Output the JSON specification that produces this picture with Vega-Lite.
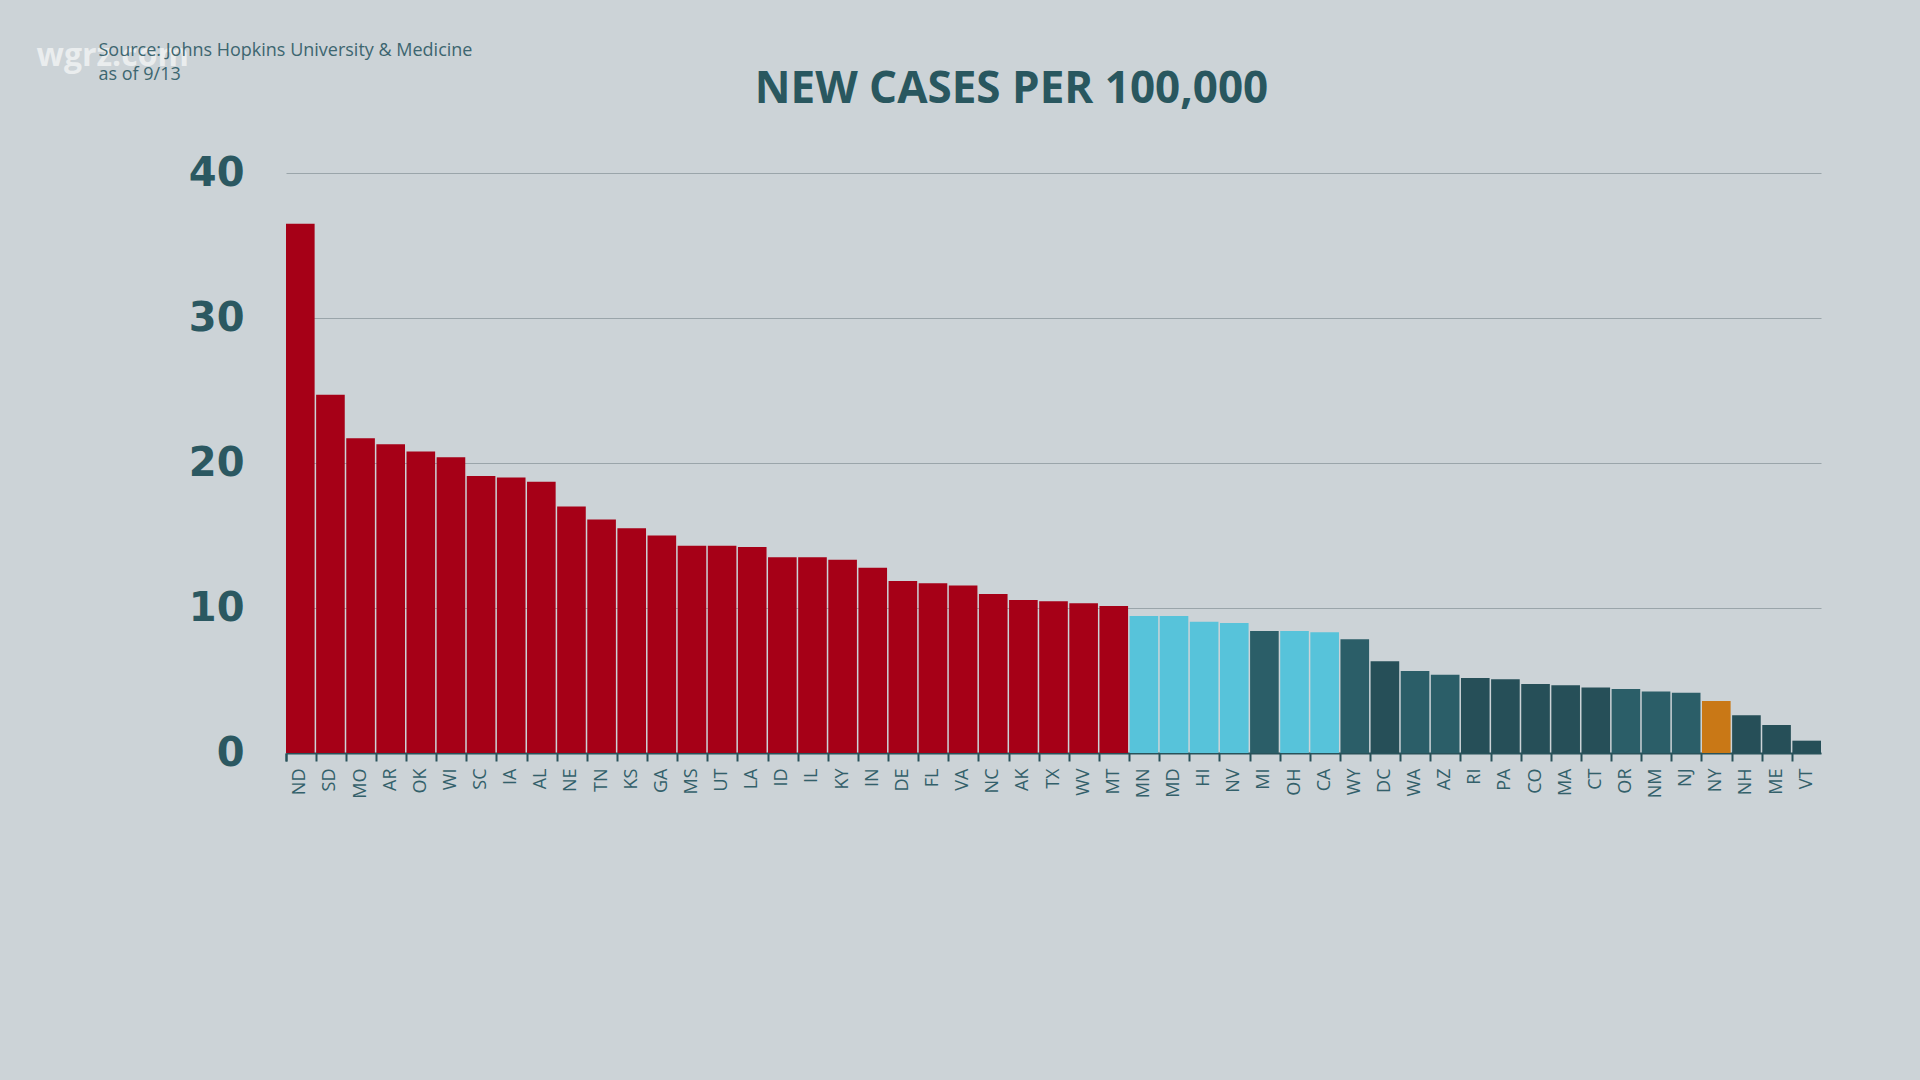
{
  "$schema": "https://vega.github.io/schema/vega-lite/v6.json",
  "autosize": {"type": "none"},
  "width": 1535,
  "height": 580,
  "padding": {"left": 286, "top": 173, "right": 99, "bottom": 327},
  "background": "#ccd3d7",
  "title": {
    "text": "NEW CASES PER 100,000",
    "font": "Open Sans",
    "fontSize": 44,
    "fontWeight": 700,
    "color": "#29575f",
    "anchor": "middle",
    "frame": "group",
    "dx": -42,
    "dy": 77
  },
  "data": {
    "values": [
      {"state": "ND", "value": 36.5, "grp": "red"},
      {"state": "SD", "value": 24.7, "grp": "red"},
      {"state": "MO", "value": 21.7, "grp": "red"},
      {"state": "AR", "value": 21.3, "grp": "red"},
      {"state": "OK", "value": 20.8, "grp": "red"},
      {"state": "WI", "value": 20.4, "grp": "red"},
      {"state": "SC", "value": 19.1, "grp": "red"},
      {"state": "IA", "value": 19.0, "grp": "red"},
      {"state": "AL", "value": 18.7, "grp": "red"},
      {"state": "NE", "value": 17.0, "grp": "red"},
      {"state": "TN", "value": 16.1, "grp": "red"},
      {"state": "KS", "value": 15.5, "grp": "red"},
      {"state": "GA", "value": 15.0, "grp": "red"},
      {"state": "MS", "value": 14.3, "grp": "red"},
      {"state": "UT", "value": 14.3, "grp": "red"},
      {"state": "LA", "value": 14.2, "grp": "red"},
      {"state": "ID", "value": 13.5, "grp": "red"},
      {"state": "IL", "value": 13.5, "grp": "red"},
      {"state": "KY", "value": 13.33, "grp": "red"},
      {"state": "IN", "value": 12.78, "grp": "red"},
      {"state": "DE", "value": 11.86, "grp": "red"},
      {"state": "FL", "value": 11.7, "grp": "red"},
      {"state": "VA", "value": 11.56, "grp": "red"},
      {"state": "NC", "value": 10.97, "grp": "red"},
      {"state": "AK", "value": 10.55, "grp": "red"},
      {"state": "TX", "value": 10.46, "grp": "red"},
      {"state": "WV", "value": 10.32, "grp": "red"},
      {"state": "MT", "value": 10.14, "grp": "red"},
      {"state": "MN", "value": 9.45, "grp": "blue"},
      {"state": "MD", "value": 9.45, "grp": "blue"},
      {"state": "HI", "value": 9.06, "grp": "blue"},
      {"state": "NV", "value": 8.97, "grp": "blue"},
      {"state": "MI", "value": 8.41, "grp": "dark1"},
      {"state": "OH", "value": 8.41, "grp": "blue"},
      {"state": "CA", "value": 8.32, "grp": "blue"},
      {"state": "WY", "value": 7.84, "grp": "dark1"},
      {"state": "DC", "value": 6.32, "grp": "dark2"},
      {"state": "WA", "value": 5.66, "grp": "dark1"},
      {"state": "AZ", "value": 5.4, "grp": "dark1"},
      {"state": "RI", "value": 5.17, "grp": "dark2"},
      {"state": "PA", "value": 5.08, "grp": "dark2"},
      {"state": "CO", "value": 4.76, "grp": "dark2"},
      {"state": "MA", "value": 4.67, "grp": "dark2"},
      {"state": "CT", "value": 4.51, "grp": "dark2"},
      {"state": "OR", "value": 4.41, "grp": "dark1"},
      {"state": "NM", "value": 4.25, "grp": "dark1"},
      {"state": "NJ", "value": 4.16, "grp": "dark1"},
      {"state": "NY", "value": 3.59, "grp": "orange"},
      {"state": "NH", "value": 2.6, "grp": "dark2"},
      {"state": "ME", "value": 1.93, "grp": "dark2"},
      {"state": "VT", "value": 0.85, "grp": "dark2"}
    ]
  },
  "mark": {"type": "bar"},
  "encoding": {
    "x": {
      "field": "state",
      "type": "nominal",
      "sort": null,
      "scale": {"paddingInner": 0.05, "paddingOuter": 0},
      "axis": {
        "title": "wgrz.com",
        "titleX": -250,
        "titleY": -698,
        "titleAlign": "left",
        "titleBaseline": "middle",
        "titleFont": "Open Sans",
        "titleFontSize": 32,
        "titleFontWeight": 700,
        "titleColor": "#ffffff",
        "titleOpacity": 0.6,
        "labelAngle": -90,
        "labelFont": "Open Sans",
        "labelFontSize": 18,
        "labelColor": "#33606a",
        "labelPadding": 7,
        "bandPosition": 0,
        "tickExtra": true,
        "ticks": true,
        "tickColor": "#28525a",
        "tickSize": 8,
        "tickWidth": 2,
        "domain": true,
        "domainColor": "#28525a",
        "domainWidth": 2
      }
    },
    "y": {
      "field": "value",
      "type": "quantitative",
      "scale": {"domain": [0, 40]},
      "axis": {
        "values": [0, 10, 20, 30, 40],
        "title": ["Source: Johns Hopkins University & Medicine", "as of 9/13"],
        "titleAngle": 0,
        "titleX": -188,
        "titleY": -132,
        "titleAlign": "left",
        "titleBaseline": "top",
        "titleFont": "Open Sans",
        "titleFontSize": 18,
        "titleFontWeight": 400,
        "titleColor": "#3d6670",
        "titleLineHeight": 24,
        "labelFont": "DejaVu Sans",
        "labelFontSize": 40,
        "labelFontWeight": 700,
        "labelColor": "#2b5861",
        "labelPadding": 42,
        "labelBaseline": "middle",
        "ticks": false,
        "domain": false,
        "grid": true,
        "gridColor": "#9aa5aa",
        "gridWidth": 1.2
      }
    },
    "color": {
      "field": "grp",
      "type": "nominal",
      "legend": null,
      "scale": {
        "domain": ["red", "blue", "dark1", "dark2", "orange"],
        "range": ["#a60017", "#57c3da", "#2b5e68", "#264f58", "#c97816"]
      }
    }
  },
  "config": {
    "view": {"stroke": null}
  }
}
